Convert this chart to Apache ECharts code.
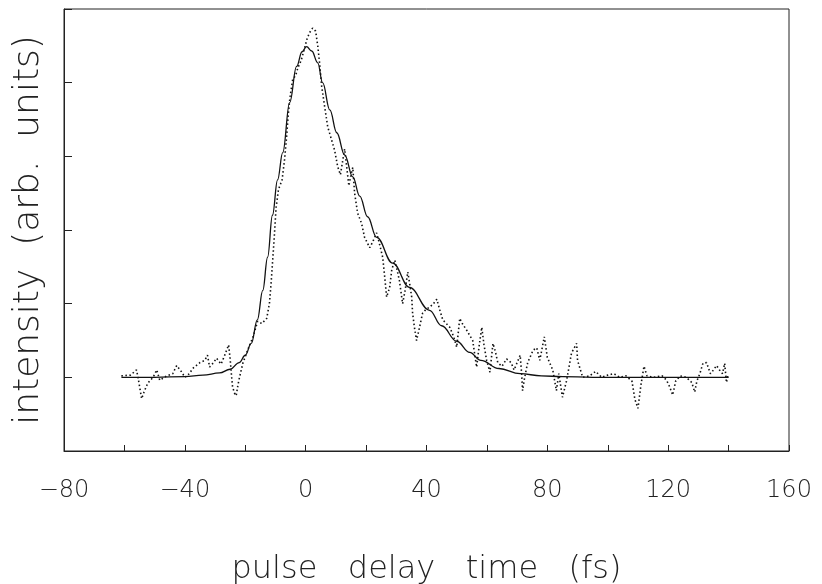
<!DOCTYPE html>
<html>
<head>
<meta charset="utf-8">
<script src="https://cdn.jsdelivr.net/npm/echarts@6/dist/echarts.min.js"></script>
<style>html,body{margin:0;padding:0;background:#fff}#c{width:822px;height:584px}</style>
</head>
<body>
<div id="c"></div>
<script>
// x tick labels (fs)
const xTickValues = [-80, -40, 0, 40, 80, 120, 160];
const xTickLabels = ['\u221280', '\u221240', '0', '40', '80', '120', '160'];

// fitted curve (solid): [delay fs, intensity]
const fitCurve = [
  [-61,0],[-50,0],[-40,0.01],[-34,0.03],[-28.5,0.06],[-25,0.11],[-22,0.2],[-20,0.3],
  [-18,0.46],[-16,0.78],[-14.2,1.18],[-12.6,1.63],[-11,2.2],[-9.3,2.68],[-7.6,3.05],
  [-5.3,3.73],[-3,4.22],[-1.2,4.42],[0.3,4.49],[2,4.43],[4,4.27],[5.6,4.0],[8,3.63],
  [10.3,3.32],[12.9,3.02],[15.6,2.72],[17.9,2.46],[20.5,2.18],[23.5,1.9],[28.8,1.55],
  [34.4,1.22],[41,0.91],[45,0.7],[50,0.49],[54.3,0.34],[58,0.23],[64,0.12],[71,0.05],
  [78,0.02],[85,0.01],[95,0],[110,0],[125,0],[140,0]
];

// measured data (dotted): [delay fs, intensity]
const measured = [
  [-61,0.02],[-58,0.03],[-56,0.1],[-55.5,0.0],[-54.3,-0.29],[-53.5,-0.2],[-52.3,-0.08],
  [-50.5,0.0],[-49.3,0.1],[-48.3,-0.04],[-46,0.02],[-44,0.05],[-42.7,0.16],[-41,0.07],
  [-40,0.0],[-38.5,0.05],[-37.4,0.12],[-35,0.2],[-33.4,0.23],[-32.5,0.3],[-31.8,0.14],
  [-30.5,0.2],[-29.5,0.26],[-28,0.18],[-26.8,0.3],[-25.5,0.44],[-25,0.25],[-24.6,0.05],
  [-24.2,-0.13],[-23.5,-0.22],[-23,-0.25],[-22.4,-0.1],[-21.9,0.0],[-20.8,0.19],
  [-19.2,0.37],[-17.5,0.54],[-15.9,0.76],[-14.5,0.73],[-12.9,0.8],[-12,1.0],[-11.4,1.3],
  [-10.9,1.6],[-10.4,1.9],[-9.8,2.3],[-9,2.55],[-7.8,2.68],[-7,2.95],[-6.3,3.27],
  [-5.8,3.55],[-5.2,3.8],[-4.3,4.04],[-3.3,4.1],[-2.6,4.2],[-1.5,4.3],[-0.5,4.45],
  [0.5,4.6],[1.3,4.68],[2.3,4.74],[3.3,4.7],[4,4.5],[4.6,4.27],[5.3,3.95],[6.3,3.67],
  [7.3,3.4],[8.6,3.22],[9.6,3.08],[10.6,2.86],[11.5,2.75],[12.3,2.95],[12.9,3.1],
  [13.6,2.85],[14.3,2.6],[15,2.75],[15.6,2.85],[16.2,2.5],[17.2,2.23],[18.5,2.09],
  [19.5,1.9],[21.2,1.76],[22.2,1.84],[23.5,1.96],[24.5,1.8],[25.5,1.63],[26.2,1.35],
  [26.8,1.09],[27.8,1.22],[28.5,1.46],[29.5,1.59],[30.3,1.45],[31,1.32],[32.1,1.0],
  [33,1.2],[33.8,1.43],[34.5,1.25],[35.1,1.09],[35.4,0.87],[36,0.68],[36.7,0.5],
  [37.7,0.68],[38.7,0.87],[40,0.93],[41,0.95],[42.3,1.0],[43.4,1.06],[44.5,0.9],
  [45.4,0.78],[47.7,0.68],[49,0.55],[50,0.41],[50.5,0.6],[51,0.8],[52,0.72],[53.3,0.64],
  [55.3,0.5],[56,0.3],[56.6,0.14],[57.5,0.45],[58.3,0.68],[59,0.45],[59.9,0.23],
  [61,0.07],[62,0.46],[62.8,0.35],[63.6,0.2],[65,0.15],[66.5,0.25],[68,0.2],[69,0.1],
  [70,0.2],[71,0.3],[71.5,0.05],[71.8,-0.18],[72.5,0.0],[73.5,0.2],[75.3,0.37],
  [76.5,0.4],[77.5,0.23],[78.3,0.4],[79,0.55],[80,0.27],[81.8,0.1],[83,-0.18],
  [83.8,0.05],[85,-0.27],[86.4,-0.04],[88,0.33],[89.7,0.46],[90,0.23],[91.7,0.0],
  [94,0.02],[96,0.08],[98,0.0],[100,0.03],[102,0.05],[104,0.0],[106,0.02],[108,-0.05],
  [109,-0.3],[110,-0.42],[111,-0.1],[112,0.15],[113,0.02],[115,0.0],[118,0.02],
  [119.5,-0.04],[120.5,-0.13],[121.5,-0.24],[122.5,-0.05],[124,0.02],[126,0.0],
  [127.8,-0.07],[128.8,-0.2],[129.5,-0.05],[130.5,0.05],[131.5,0.19],[132.7,0.2],
  [134,0.05],[135,0.1],[136,0.16],[137,0.1],[138,0.05],[138.7,0.19],[139.3,-0.07],[139.8,0.03]
];

const FONT = '"DejaVu Sans", sans-serif';
const chart = echarts.init(document.getElementById('c'), null, {renderer: 'canvas'});
chart.setOption({
  animation: false,
  backgroundColor: '#ffffff',
  grid: {left: 64, right: 33, top: 9, bottom: 133, show: true, borderColor: '#222', borderWidth: 1,
         containLabel: false, outerBoundsMode: 'none'},
  xAxis: {
    type: 'value', min: -80, max: 160, interval: 40,
    name: 'pulse   delay   time   (fs)', nameLocation: 'middle', nameGap: 103,
    nameTextStyle: {fontFamily: FONT, fontSize: 32, fontWeight: 200, color: '#222'},
    axisLine: {show: true, onZero: false, lineStyle: {color: '#222', width: 1}},
    axisTick: {show: true, inside: true, length: 6, lineStyle: {color: '#222', width: 1}},
    minorTick: {show: true, splitNumber: 2, length: 6, lineStyle: {color: '#222', width: 1}},
    splitLine: {show: false},
    axisLabel: {
      margin: 28, fontFamily: FONT, fontSize: 24, fontWeight: 200, color: '#222',
      formatter: function (v) { const i = xTickValues.indexOf(v); return i >= 0 ? xTickLabels[i] : ''; }
    }
  },
  yAxis: {
    type: 'value', min: -1, max: 5, interval: 1,
    name: 'intensity  (arb.  units)', nameLocation: 'middle', nameGap: 17, nameRotate: 90,
    nameTextStyle: {fontFamily: FONT, fontSize: 36, fontWeight: 200, color: '#222'},
    axisLine: {show: true, onZero: false, lineStyle: {color: '#222', width: 1}},
    axisTick: {show: true, inside: true, length: 8, lineStyle: {color: '#222', width: 1}},
    axisLabel: {show: false},
    splitLine: {show: false}
  },
  series: [
    {
      type: 'line', name: 'fit', data: fitCurve, showSymbol: false, symbol: 'none',
      smooth: 0.4, smoothMonotone: 'x',
      lineStyle: {color: '#111', width: 1.3}, z: 3
    },
    {
      type: 'line', name: 'measured', data: measured, showSymbol: false, symbol: 'none',
      lineStyle: {color: '#111', width: 1.6, type: [1.5, 2.5]}, z: 2
    }
  ]
});
</script>
</body>
</html>
